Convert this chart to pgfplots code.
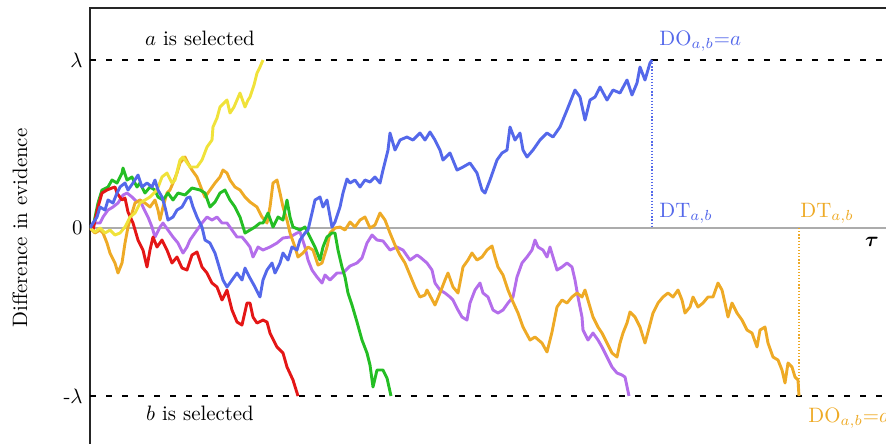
\documentclass[border=0pt]{standalone}
\usepackage{amsmath}
\usepackage{pgfplots}
\pgfplotsset{compat=1.18}
\definecolor{cblue}{RGB}{84,104,234}
\definecolor{cred}{RGB}{228,22,22}
\definecolor{cgreen}{RGB}{36,190,36}
\definecolor{cyellow}{RGB}{240,226,58}
\definecolor{corange}{RGB}{238,170,38}
\definecolor{cpurple}{RGB}{180,110,235}
\begin{document}
\begin{tikzpicture}
\useasboundingbox (-43.2pt,3.84pt) rectangle (382.08pt,-208.8pt);
\clip (-43.2pt,3.84pt) rectangle (382.08pt,-208.8pt);
\begin{axis}[
  at={(0pt,0pt)}, anchor=north west,
  scale only axis, width=388.8pt, height=211.2pt,
  xmin=90, xmax=900, ymin=8, ymax=448, y dir=reverse,
  axis line style={black!85, line width=0.8pt},
  xtick=\empty,
  ytick={60,228,396}, yticklabels={$\lambda$,0,-$\lambda$},
  major tick length=0pt,
  ylabel={Difference in evidence},
  ylabel style={at={(axis description cs:-0.0864,0.5)}, anchor=center},
  clip=true,
  every axis plot/.append style={line width=1.4pt, line join=round},
]
% zero line
\addplot[gray!65, line width=1.2pt] coordinates {(90,228) (900,228)};
% thresholds
\addplot[black, line width=1.3pt, dash pattern=on 2.9pt off 4.8pt] coordinates {(90,60) (900,60)};
\addplot[black, line width=1.3pt, dash pattern=on 2.9pt off 4.8pt] coordinates {(90,396) (900,396)};
% dotted verticals
\addplot[cblue, line width=0.6pt, dash pattern=on 0.6pt off 0.9pt] coordinates {(652,60) (652,228)};
\addplot[corange, line width=0.6pt, dash pattern=on 0.6pt off 0.9pt] coordinates {(799,228) (799,396)};
% purple
\addplot[cpurple] coordinates {(90,228)(93,223)(100,223)(103,217)(108,210)(113,207)(118,203)(123,195)(127,193)(132,197)(137,202)(140,200)(143,207)(148,217)(152,227)(155,237)(160,227)(163,223)(168,230)(173,237)(178,243)(183,253)(187,247)(190,240)(197,230)(202,223)(207,217)(212,220)(217,217)(222,223)(227,223)(232,230)(237,237)(242,237)(247,243)(250,247)(253,257)(258,247)(263,250)(270,247)(277,243)(283,238)(290,237)(297,233)(300,232)(305,247)(308,260)(312,270)(317,277)(322,283)(325,275)(330,280)(337,273)(343,273)(350,266)(357,263)(362,258)(367,243)(372,235)(377,240)(383,241)(390,250)(397,247)(403,250)(410,260)(417,255)(420,257)(427,263)(432,270)(435,283)(440,290)(445,293)(450,297)(453,300)(458,310)(462,317)(467,320)(470,303)(475,290)(480,283)(483,293)(488,297)(493,310)(498,313)(503,310)(508,303)(513,297)(517,277)(522,263)(527,257)(532,250)(535,240)(538,247)(543,250)(547,257)(550,247)(553,257)(557,270)(562,267)(567,263)(572,267)(575,280)(578,297)(582,317)(583,330)(588,340)(593,333)(598,340)(602,347)(607,357)(612,367)(617,373)(622,375)(625,377)(629,396)};
% orange
\addplot[corange] coordinates {(90,228)(92,230)(95,233)(100,230)(103,233)(107,243)(110,253)(115,263)(118,273)(122,263)(125,243)(128,227)(132,213)(135,203)(140,200)(145,203)(150,207)(155,200)(158,210)(160,220)(163,207)(167,193)(170,190)(173,183)(177,173)(180,163)(185,157)(188,163)(192,170)(197,177)(202,190)(205,197)(210,190)(215,183)(220,177)(223,170)(227,173)(230,180)(235,187)(240,190)(245,197)(250,202)(257,207)(262,217)(267,223)(270,207)(273,183)(277,180)(280,193)(283,207)(287,220)(290,233)(295,247)(298,257)(303,253)(308,247)(313,250)(318,265)(322,263)(327,247)(330,233)(335,228)(340,227)(345,230)(350,222)(355,227)(360,220)(365,217)(370,228)(375,225)(380,213)(385,220)(390,233)(395,245)(400,255)(405,263)(410,275)(415,287)(420,297)(425,295)(427,290)(435,305)(440,293)(445,280)(448,273)(453,287)(458,293)(463,267)(468,260)(472,253)(477,260)(482,257)(487,250)(492,246)(495,257)(498,267)(503,275)(508,290)(513,302)(518,313)(523,327)(530,340)(535,337)(542,343)(547,352)(552,332)(557,307)(562,300)(567,303)(572,297)(577,293)(582,297)(585,290)(590,307)(593,317)(598,327)(602,333)(607,343)(612,353)(617,357)(620,343)(623,333)(627,323)(630,312)(635,317)(640,327)(645,343)(648,332)(653,313)(658,303)(663,297)(668,293)(673,297)(678,290)(682,300)(685,313)(690,307)(693,297)(698,307)(703,303)(708,297)(713,297)(718,283)(722,290)(725,303)(728,317)(732,303)(737,313)(742,320)(747,330)(752,333)(757,347)(760,330)(765,327)(768,343)(773,357)(778,360)(782,370)(785,383)(788,363)(792,367)(795,377)(798,380)(799,396)};
% green
\addplot[cgreen] coordinates {(90,228)(93,227)(98,203)(102,190)(108,187)(112,180)(117,183)(122,173)(123,168)(127,180)(132,177)(137,187)(140,183)(145,193)(150,187)(155,190)(158,197)(163,200)(168,193)(173,200)(178,193)(185,195)(192,188)(200,190)(205,193)(210,207)(215,202)(220,193)(225,190)(230,200)(235,207)(240,217)(245,233)(250,230)(255,227)(260,223)(263,223)(268,213)(273,227)(278,217)(283,220)(287,200)(290,217)(293,227)(300,230)(305,227)(310,237)(315,247)(320,260)(323,247)(327,237)(332,233)(335,233)(338,250)(342,267)(345,277)(348,293)(352,305)(357,322)(362,340)(367,353)(370,365)(373,387)(377,370)(383,370)(387,378)(391,396)};
% red
\addplot[cred] coordinates {(90,228)(93,230)(98,207)(102,193)(107,190)(112,188)(115,187)(117,193)(122,200)(125,198)(128,212)(133,223)(138,240)(143,250)(147,267)(150,250)(153,237)(157,247)(162,240)(167,250)(172,263)(177,257)(182,268)(187,270)(192,255)(197,252)(202,267)(207,273)(212,283)(217,287)(222,300)(227,290)(232,310)(237,322)(242,325)(247,303)(250,303)(253,317)(257,323)(263,320)(267,322)(270,333)(277,347)(283,353)(287,367)(293,380)(298,396)};
% yellow
\addplot[cyellow] coordinates {(90,228)(95,232)(100,228)(105,233)(110,230)(115,235)(120,233)(125,227)(130,217)(135,213)(140,203)(145,200)(150,197)(157,190)(162,177)(167,173)(172,183)(175,180)(180,160)(183,157)(190,167)(197,167)(202,160)(207,147)(212,140)(213,127)(217,118)(220,107)(224,103)(227,100)(230,113)(234,107)(237,100)(240,93)(245,107)(248,100)(250,97)(254,85)(257,73)(260,67)(263,60)};
% blue
\addplot[cblue] coordinates {(90,228)(93,223)(97,217)(100,207)(105,210)(108,200)(113,203)(117,193)(120,187)(125,183)(128,190)(133,183)(138,175)(142,187)(147,183)(152,187)(155,180)(158,190)(162,197)(165,207)(168,220)(173,217)(177,210)(182,207)(187,198)(190,197)(193,207)(197,217)(202,227)(205,240)(210,243)(215,253)(218,263)(223,280)(227,287)(232,280)(237,273)(242,280)(245,268)(250,278)(255,287)(260,297)(263,280)(267,270)(272,263)(275,273)(280,263)(283,253)(288,260)(292,247)(297,250)(300,240)(305,233)(308,230)(312,213)(315,200)(320,197)(323,207)(327,200)(332,227)(335,222)(340,207)(343,193)(347,179)(350,183)(355,180)(360,187)(365,180)(370,182)(375,177)(380,183)(383,170)(388,150)(390,133)(395,150)(400,140)(407,137)(413,140)(420,133)(425,140)(430,132)(435,140)(440,150)(443,160)(450,153)(457,170)(463,167)(470,163)(477,173)(482,190)(485,193)(490,180)(497,160)(502,153)(507,150)(510,127)(515,140)(520,133)(523,150)(527,157)(533,150)(540,140)(547,133)(553,137)(560,127)(567,110)(575,90)(580,97)(585,120)(590,100)(595,97)(600,87)(607,100)(613,90)(620,93)(627,80)(632,95)(637,83)(640,67)(645,80)(650,63)(652,60)};
% texts
\node[anchor=base] at (axis cs:200,45) {$a$ is selected};
\node[anchor=base] at (axis cs:200,420) {$b$ is selected};
\node[anchor=base west, inner sep=0pt, text=cblue] at (axis cs:659,45) {DO$_{a,b}{=}a$};
\node[anchor=base west, inner sep=0pt, text=cblue] at (axis cs:659,217) {DT$_{a,b}$};
\node[anchor=base west, inner sep=0pt, text=corange] at (axis cs:800,217) {DT$_{a,b}$};
\node[anchor=base west, inner sep=0pt, text=corange] at (axis cs:808,422) {DO$_{a,b}{=}a$};
\node[anchor=center] at (axis cs:872,242) {$\boldsymbol{\tau}$};
\end{axis}
\end{tikzpicture}
\end{document}
